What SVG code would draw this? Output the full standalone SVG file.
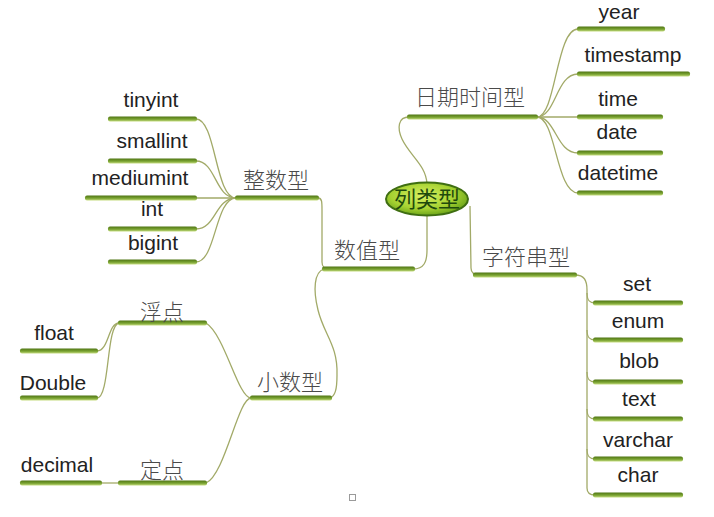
<svg xmlns="http://www.w3.org/2000/svg" width="714" height="517" viewBox="0 0 714 517">
<defs>
<linearGradient id="barGrad" x1="0" y1="0" x2="0" y2="1">
<stop offset="0" stop-color="#4f7514"/>
<stop offset="0.55" stop-color="#7aa332"/>
<stop offset="1" stop-color="#c4db7e"/>
</linearGradient>
<radialGradient id="ovalGrad" cx="0.45" cy="0.4" r="0.65">
<stop offset="0" stop-color="#d8f060"/>
<stop offset="0.6" stop-color="#a6d232"/>
<stop offset="1" stop-color="#5e9a14"/>
</radialGradient>
<style>
.bar{fill:url(#barGrad);}
.conn{fill:none;stroke:#a2aa68;stroke-width:1.3;}
.en{font-family:"Liberation Sans",Arial,sans-serif;font-size:21px;fill:#222;text-anchor:middle;}
.zh{font-family:"Noto Sans CJK SC",sans-serif;font-size:22px;font-weight:300;fill:#4a4a4a;text-anchor:middle;}
</style>
</defs>
<rect width="714" height="517" fill="#ffffff"/>

<g id="connectors">
<path class="conn" d="M409,117 C398,117 397,128 402,139 C410,156 426,165 427,184"/>
<path class="conn" d="M413,269 C424,269 427,262 427,250 L427,215"/>
<path class="conn" d="M470,206 L471,268 C471,273 474,275 480,275"/>
<path class="conn" d="M318,198 C322,198 322,202 322,210 L322,262 C322,267 324,269 330,269"/>
<path class="conn" d="M324,269 C314,272 313,290 318,310 C324,335 338,345 337,375 C337,390 335,396 330,398"/>
<path class="conn" d="M537,117 C556,117 556,29 578,29"/>
<path class="conn" d="M537,117 C556,117 556,74 578,74"/>
<path class="conn" d="M537,117 L578,117"/>
<path class="conn" d="M537,117 C556,117 556,153 578,153"/>
<path class="conn" d="M537,117 C556,117 556,193 578,193"/>
<path class="conn" d="M236,198 C215,198 216,119 196,119"/>
<path class="conn" d="M236,198 C215,198 216,161 196,161"/>
<path class="conn" d="M236,198 L196,198"/>
<path class="conn" d="M236,198 C215,198 216,229 196,229"/>
<path class="conn" d="M236,198 C215,198 216,262 196,262"/>
<path class="conn" d="M575,275 C584,275 587,280 587,290 L587,488 C587,493 590,495 595,495"/>
<path class="conn" d="M587,293 C587,300 589,303 595,303"/>
<path class="conn" d="M587,330 C587,337 589,340 595,340"/>
<path class="conn" d="M587,372 C587,379 589,382 595,382"/>
<path class="conn" d="M587,409 C587,416 589,419 595,419"/>
<path class="conn" d="M587,449 C587,456 589,459 595,459"/>
<path class="conn" d="M251,398 C238,398 225,335 206,323"/>
<path class="conn" d="M251,398 C238,398 225,475 206,483"/>
<path class="conn" d="M119,323 C108,323 109,351 97,351"/>
<path class="conn" d="M119,323 C106,325 110,398 97,398"/>
<path class="conn" d="M100,483 L119,483"/>
</g>

<g id="root">
<ellipse cx="427" cy="199" rx="41" ry="16.5" fill="url(#ovalGrad)" stroke="#3f6e12" stroke-width="2"/>
<text x="427" y="207" style="font-family:'Noto Sans CJK SC',sans-serif;font-size:22px;fill:#1f4a0c;text-anchor:middle;">列类型</text>
</g>

<g id="datetime-type">
<rect class="bar" x="407" y="114.5" width="131" height="5" rx="2"/>
<text class="zh" x="470" y="105">日期时间型</text>
</g>
<g id="year"><rect class="bar" x="577" y="26.5" width="88" height="5" rx="2"/><text class="en" x="619" y="19">year</text></g>
<g id="timestamp"><rect class="bar" x="577" y="71.5" width="113" height="5" rx="2"/><text class="en" x="633" y="62">timestamp</text></g>
<g id="time"><rect class="bar" x="577" y="114.5" width="86" height="5" rx="2"/><text class="en" x="618" y="106">time</text></g>
<g id="date"><rect class="bar" x="577" y="150.5" width="86" height="5" rx="2"/><text class="en" x="617" y="139">date</text></g>
<g id="datetime"><rect class="bar" x="577" y="190.5" width="86" height="5" rx="2"/><text class="en" x="618" y="180">datetime</text></g>

<g id="numeric-type">
<rect class="bar" x="322" y="266.5" width="93" height="5" rx="2"/>
<text class="zh" x="367" y="258">数值型</text>
</g>

<g id="integer-type">
<rect class="bar" x="235" y="195.5" width="84" height="5" rx="2"/>
<text class="zh" x="276" y="188">整数型</text>
</g>
<g id="tinyint"><rect class="bar" x="108" y="116.5" width="89" height="5" rx="2"/><text class="en" x="151" y="107">tinyint</text></g>
<g id="smallint"><rect class="bar" x="108" y="158.5" width="89" height="5" rx="2"/><text class="en" x="152" y="148">smallint</text></g>
<g id="mediumint"><rect class="bar" x="85" y="195.5" width="112" height="5" rx="2"/><text class="en" x="140" y="185">mediumint</text></g>
<g id="int"><rect class="bar" x="108" y="226.5" width="89" height="5" rx="2"/><text class="en" x="152" y="216">int</text></g>
<g id="bigint"><rect class="bar" x="108" y="259.5" width="89" height="5" rx="2"/><text class="en" x="153" y="250">bigint</text></g>

<g id="decimal-type">
<rect class="bar" x="250" y="395.5" width="82" height="5" rx="2"/>
<text class="zh" x="290" y="390">小数型</text>
</g>
<g id="floating-point">
<rect class="bar" x="118" y="320.5" width="89" height="5" rx="2"/>
<text class="zh" x="162" y="320">浮点</text>
</g>
<g id="fixed-point">
<rect class="bar" x="118" y="480.5" width="89" height="5" rx="2"/>
<text class="zh" x="162" y="478">定点</text>
</g>
<g id="float"><rect class="bar" x="20" y="348.5" width="78" height="5" rx="2"/><text class="en" x="54" y="340">float</text></g>
<g id="double"><rect class="bar" x="20" y="395.5" width="78" height="5" rx="2"/><text class="en" x="53" y="390">Double</text></g>
<g id="decimal"><rect class="bar" x="20" y="480.5" width="82" height="5" rx="2"/><text class="en" x="57" y="472">decimal</text></g>

<g id="string-type">
<rect class="bar" x="473" y="272.5" width="104" height="5" rx="2"/>
<text class="zh" x="526" y="265">字符串型</text>
</g>
<g id="set"><rect class="bar" x="593" y="300.5" width="90" height="5" rx="2"/><text class="en" x="637" y="291">set</text></g>
<g id="enum"><rect class="bar" x="593" y="337.5" width="90" height="5" rx="2"/><text class="en" x="638" y="328">enum</text></g>
<g id="blob"><rect class="bar" x="593" y="379.5" width="90" height="5" rx="2"/><text class="en" x="639" y="368">blob</text></g>
<g id="text"><rect class="bar" x="593" y="416.5" width="90" height="5" rx="2"/><text class="en" x="639" y="406">text</text></g>
<g id="varchar"><rect class="bar" x="593" y="456.5" width="90" height="5" rx="2"/><text class="en" x="638" y="447">varchar</text></g>
<g id="char"><rect class="bar" x="593" y="492.5" width="90" height="5" rx="2"/><text class="en" x="638" y="482">char</text></g>

<rect x="349.5" y="494.5" width="6" height="6" fill="none" stroke="#9a9a9a" stroke-width="1"/>
</svg>
